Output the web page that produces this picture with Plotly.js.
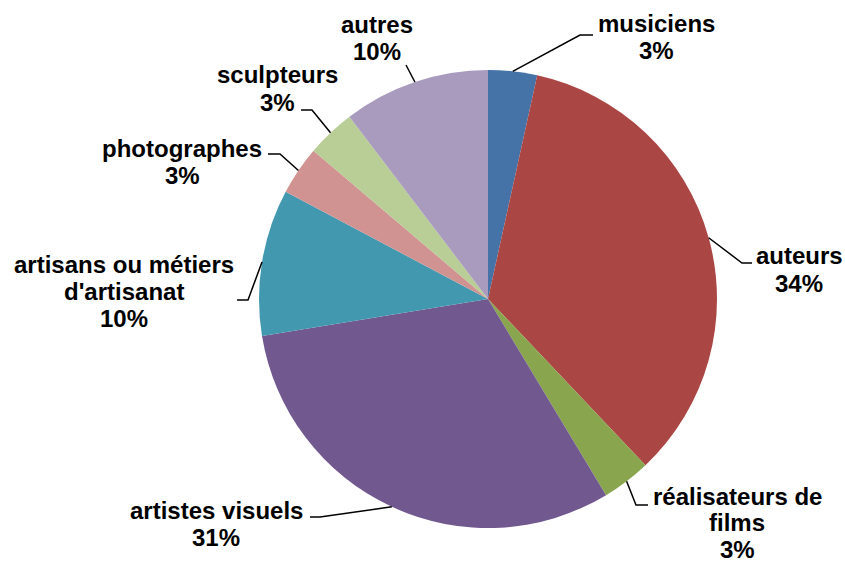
<!DOCTYPE html>
<html><head><meta charset="utf-8">
<script src="https://cdn.plot.ly/plotly-3.0.1.min.js"></script>
<style>html,body{margin:0;padding:0;background:#fff;}#chart{width:845px;height:563px;}</style>
</head><body><div id="chart"></div>
<script>
// ---- data ----
const categoryLines = [
  ['musiciens'],
  ['auteurs'],
  ['réalisateurs de', 'films'],
  ['artistes visuels'],
  ['artisans ou métiers', "d'artisanat"],
  ['photographes'],
  ['sculpteurs'],
  ['autres']
];
const categories = categoryLines.map(l => l.join(' '));
const counts = [1, 10, 1, 9, 3, 1, 1, 3];

// ---- style / layout ----
const colors = ['#4572A7', '#AA4643', '#89A54E', '#71588F', '#4198AF', '#D09392', '#B9CD96', '#A99BBD'];
const W = 845, H = 563;
const M = {l: 259, r: 128, t: 70, b: 35};
// label block centre (px): x centre, y of first line centre
const labelAnchor = [[656, 23.5], [799, 256], [737, 496], [216, 510], [124, 264], [182, 148.5], [277, 75], [377, 24]];
// line spacing per label (px)
const lineSteps = [27, 27, 26.5, 27, 27, 27, 27, 27];
// leader line bend / end points (px)
const leaderPts = [
  [[580, 35], [593, 35]],
  [[742, 263], [752, 263]],
  [[636, 505], [648, 505]],
  [[320, 517], [310, 517]],
  [[248, 300], [237, 300]],
  [[280, 154], [268, 154]],
  [[312, 110], [301, 110]],
  [[406, 65]]
];

const pw = W - M.l - M.r, ph = H - M.t - M.b;
const R = Math.min(pw, ph) / 2;
const cx = M.l + pw / 2, cy = M.t + ph / 2;
const xp = px => (px - M.l) / pw;
const yp = py => (H - M.b - py) / ph;

const total = counts.reduce((a, b) => a + b, 0);
const pctText = counts.map(c => Math.round(c / total * 100) + '%');

const annotations = [];
const shapes = [];
let cum = 0;
counts.forEach((c, i) => {
  const mid = (cum + c / 2) / total * 2 * Math.PI;
  cum += c;
  const sx = cx + R * Math.sin(mid), sy = cy - R * Math.cos(mid);
  let path = 'M' + xp(sx) + ',' + yp(sy);
  leaderPts[i].forEach(p => { path += ' L' + xp(p[0]) + ',' + yp(p[1]); });
  shapes.push({type: 'path', xref: 'paper', yref: 'paper', path: path,
    line: {color: '#000', width: 1.5}});
  const lines = categoryLines[i].concat([pctText[i]]);
  lines.forEach((t, j) => {
    annotations.push({
      xref: 'paper', yref: 'paper',
      x: xp(labelAnchor[i][0]), y: yp(labelAnchor[i][1] + j * lineSteps[i]),
      xanchor: 'center', yanchor: 'middle',
      borderpad: 0,
      text: '<b>' + t + '</b>', showarrow: false,
      font: {family: 'Liberation Sans, Arial, sans-serif', size: 24, color: '#000'}
    });
  });
});

const trace = {
  type: 'pie',
  values: counts,
  labels: categories,
  sort: false,
  direction: 'clockwise',
  rotation: 0,
  marker: {colors: colors, line: {width: 0}},
  textinfo: 'none',
  hoverinfo: 'label+percent',
  showlegend: false
};

Plotly.newPlot('chart', [trace], {
  width: W, height: H,
  margin: M,
  paper_bgcolor: '#fff', plot_bgcolor: '#fff',
  showlegend: false,
  annotations: annotations,
  shapes: shapes
}, {displayModeBar: false, staticPlot: true});
</script>
</body></html>
